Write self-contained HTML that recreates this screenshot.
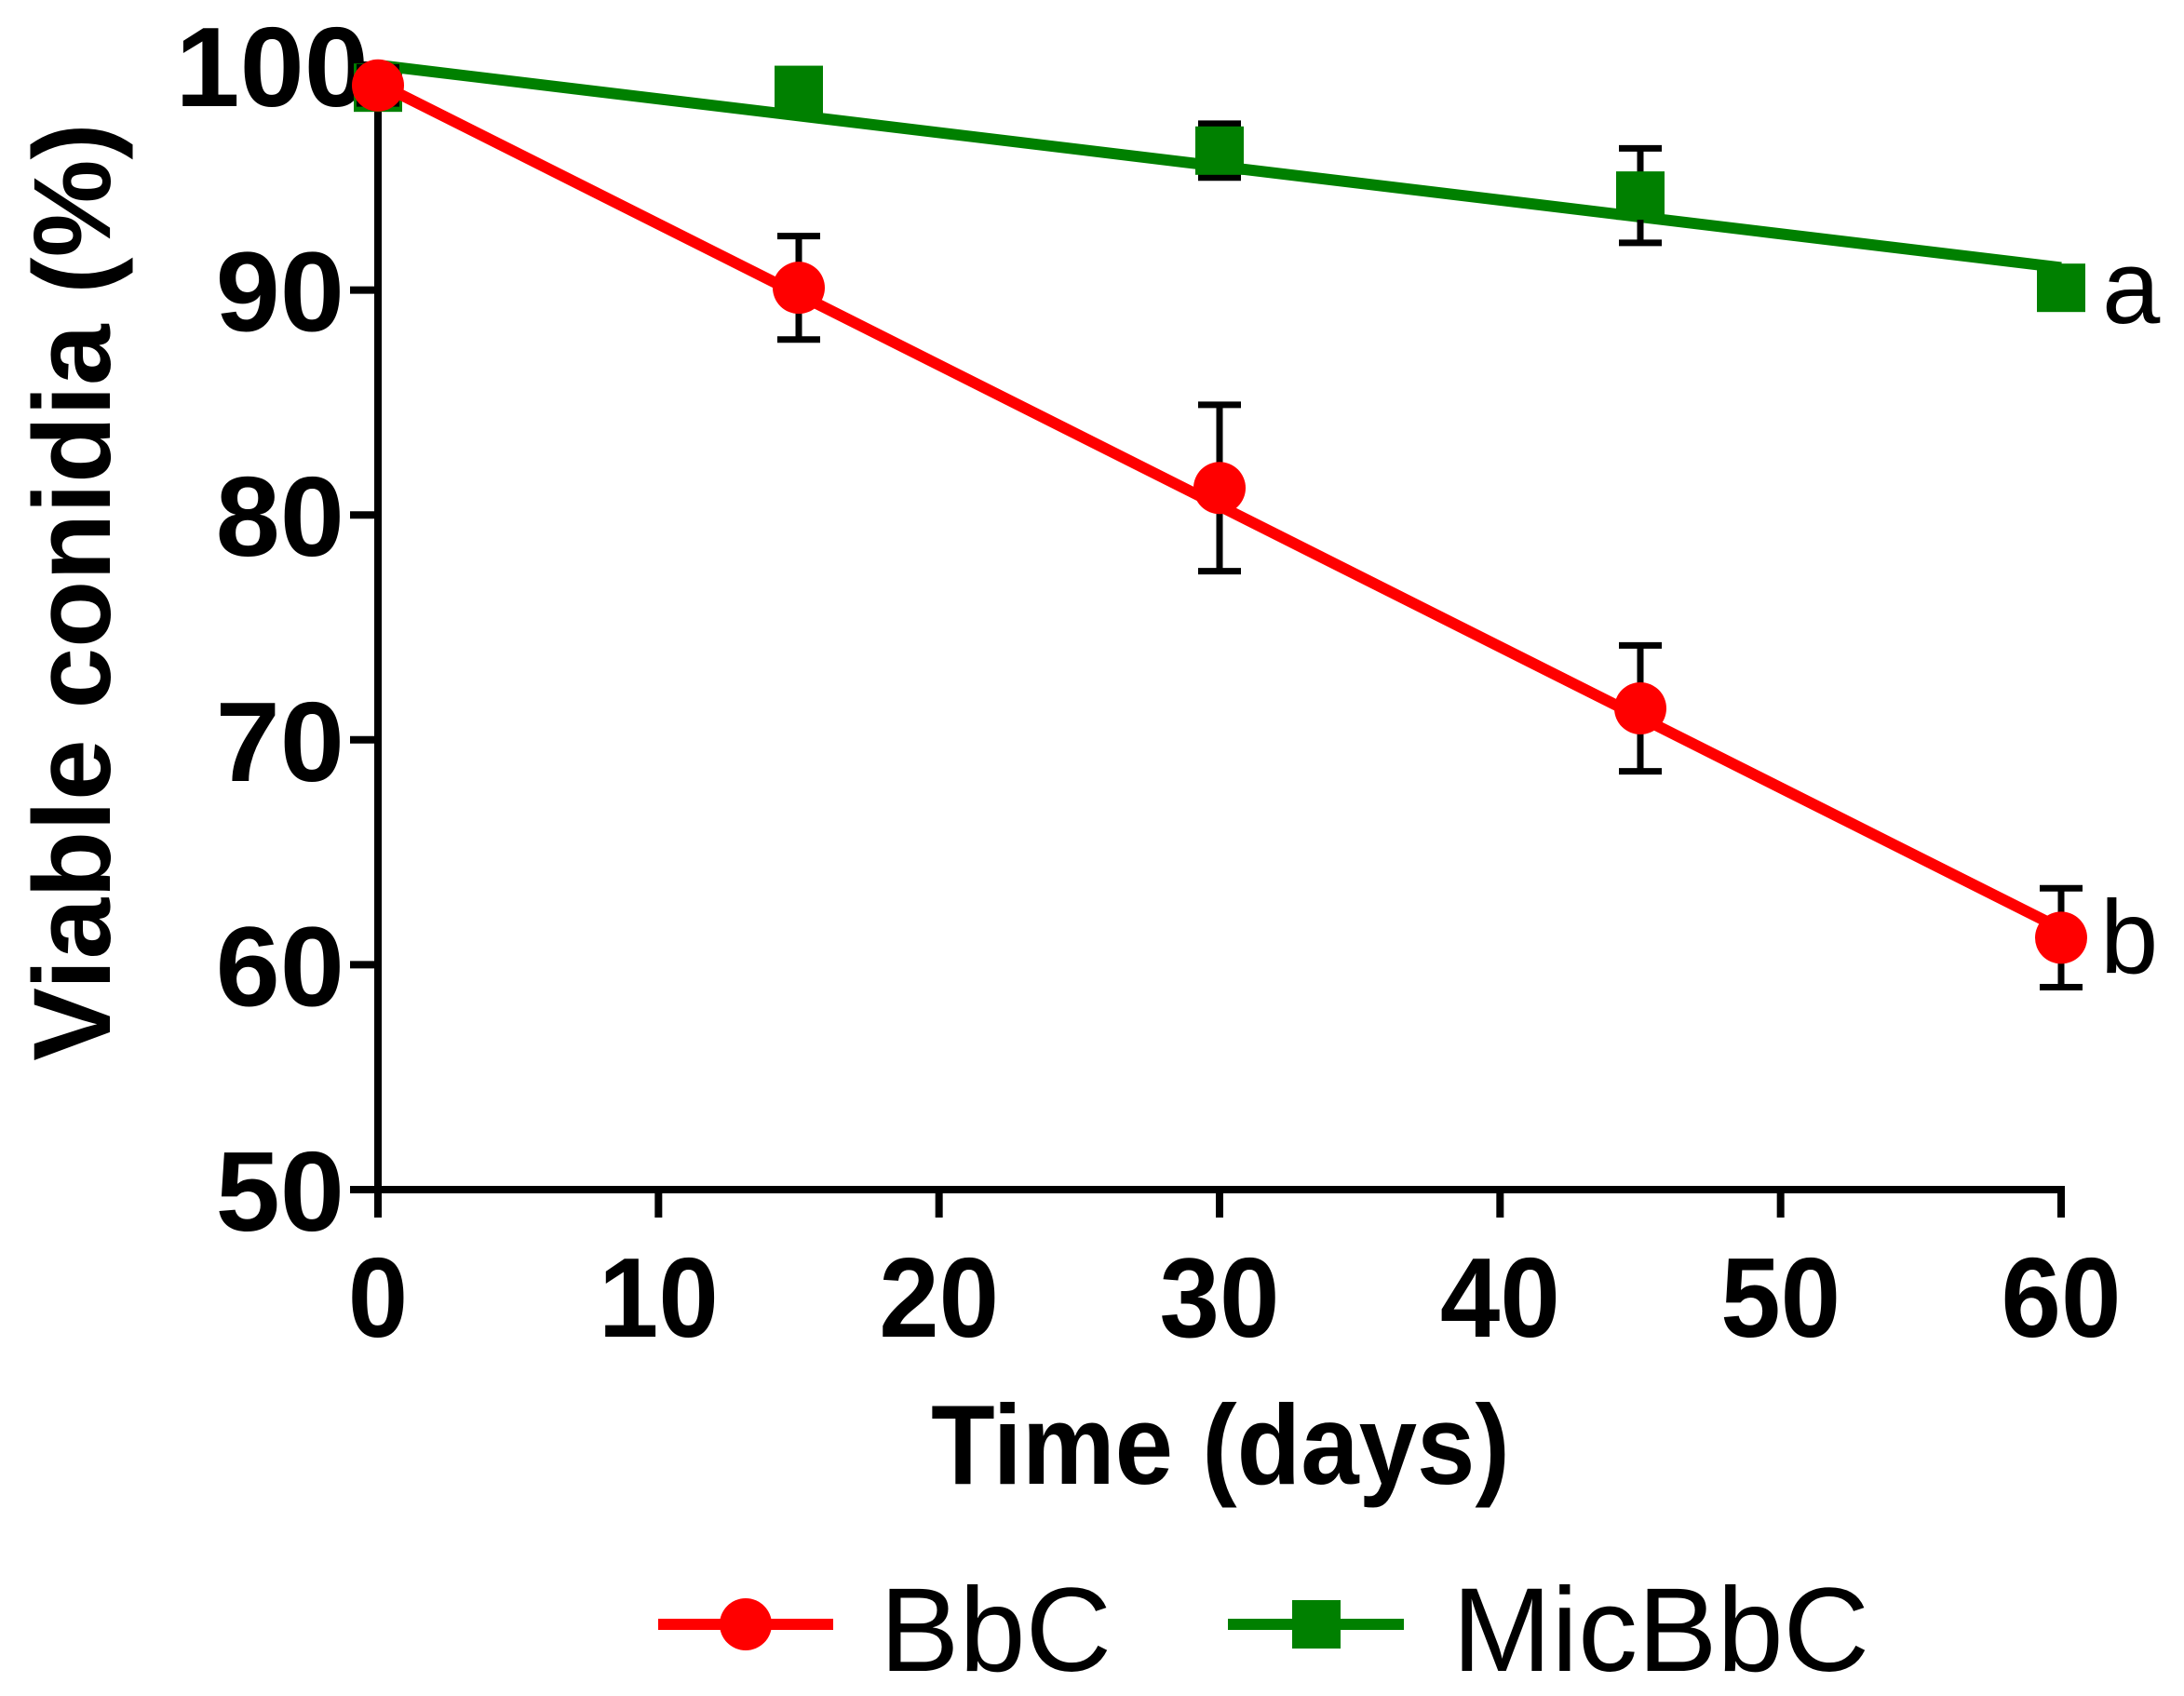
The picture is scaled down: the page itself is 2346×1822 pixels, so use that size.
<!DOCTYPE html>
<html><head><meta charset="utf-8"><style>
html,body{margin:0;padding:0;background:#fff;}
svg{display:block;}
text{font-family:"Liberation Sans",Arial,sans-serif;}
</style></head><body>
<svg id="chart" width="2346" height="1822" viewBox="0 0 2346 1822" xmlns="http://www.w3.org/2000/svg">
<g id="axes"></g><g id="series"></g><g id="legend"></g>
</svg>
<script>
const days = [0, 15, 30, 45, 60];
const bbcValues = [99.1, 90.1, 81.2, 71.4, 61.2];
const bbcErrors = [0.8, 2.3, 3.7, 2.8, 2.2];
const micValues = [99.0, 98.9, 96.2, 94.2, 90.1];
const micErrors = [0.8, 0.4, 1.2, 2.1, 0.4];
const bbcFit = [99.2, 61.6];
const micFit = [100.0, 91.0];
const xTicks = [0, 10, 20, 30, 40, 50, 60];
const yTicks = [50, 60, 70, 80, 90, 100];

const NS = "http://www.w3.org/2000/svg";
const X0 = 406, X1 = 2214, Y50 = 1278, Y100 = 70;
const xs = v => X0 + (v - 0) / 60 * (X1 - X0);
const ys = v => Y50 - (v - 50) / 50 * (Y50 - Y100);
function mk(tag, attrs, parent, txt) {
  const e = document.createElementNS(NS, tag);
  for (const k in attrs) e.setAttribute(k, attrs[k]);
  if (txt !== undefined) e.textContent = txt;
  parent.appendChild(e);
  return e;
}
const axes = document.getElementById('axes');
const series = document.getElementById('series');
const legend = document.getElementById('legend');

let e;
e = mk('line', {x1: X0, y1: Y100 - 3, x2: X0, y2: Y50 + 30, stroke: '#000', 'stroke-width': 8}, axes);


e = mk('line', {x1: X0 - 30, y1: Y50, x2: X1 + 4, y2: Y50, stroke: '#000', 'stroke-width': 8}, axes);


yTicks.forEach(t => {
  const y = ys(t);
  const tk = mk('line', {x1: X0 - 30, y1: y, x2: X0, y2: y, stroke: '#000', 'stroke-width': 8}, axes);
  
  
  const lb = mk('text', {x: 0, y: 0, 'text-anchor': 'end', 'font-size': 122, 'font-weight': 'bold', transform: `translate(${t === 100 ? 396 : 370},${y + 44}) scale(1.02,1)`}, axes, String(t));
  
  
});
xTicks.forEach(t => {
  const x = xs(t);
  const tk = mk('line', {x1: x, y1: Y50, x2: x, y2: Y50 + 30, stroke: '#000', 'stroke-width': 8}, axes);
  
  
  const lb = mk('text', {x: 0, y: 0, 'text-anchor': 'middle', 'font-size': 122, 'font-weight': 'bold', transform: `translate(${x},1436) scale(0.95,1)`}, axes, String(t));
  
  
});
e = mk('text', {x: 0, y: 0, 'text-anchor': 'middle', 'font-size': 122, 'font-weight': 'bold', transform: 'translate(1311,1594) scale(0.92,1)'}, axes, 'Time (days)');


e = mk('text', {x: 0, y: 0, 'text-anchor': 'middle', 'font-size': 118, 'font-weight': 'bold', transform: 'translate(118,636) rotate(-90)'}, axes, 'Viable conidia (%)');



function drawSeries(vals, errs, fit, color, shape, name) {
  const g = mk('g', {}, series);
  
  
  const ln = mk('line', {x1: xs(days[0]), y1: ys(fit[0]), x2: xs(days[days.length - 1]), y2: ys(fit[1]), stroke: color, 'stroke-width': 12}, g);
  
  
  vals.forEach((v, i) => {
    const x = xs(days[i]), yt = ys(v + errs[i]), yb = ys(v - errs[i]);
    const eb = mk('path', {d: `M${x},${yt}V${yb}M${x - 23},${yt}H${x + 23}M${x - 23},${yb}H${x + 23}`, stroke: '#000', 'stroke-width': 7, fill: 'none'}, g);
    
    
  });
  vals.forEach((v, i) => {
    const x = xs(days[i]), y = ys(v);
    let m;
    if (shape === 'circle') m = mk('circle', {cx: x, cy: y, r: 28, fill: color}, g);
    else m = mk('rect', {x: x - 26, y: y - 26, width: 52, height: 52, fill: color}, g);
    
    
  });
}
drawSeries(micValues, micErrors, micFit, '#008000', 'square', 'micbbc');
drawSeries(bbcValues, bbcErrors, bbcFit, '#ff0000', 'circle', 'bbc');

e = mk('text', {x: 2258, y: ys(micValues[4]) + 38, 'font-size': 112}, series, 'a');


e = mk('text', {x: 2256, y: ys(bbcValues[4]) + 38, 'font-size': 112}, series, 'b');



// legend
let lg = mk('g', {}, legend);


mk('line', {x1: 707, y1: 1745, x2: 895, y2: 1745, stroke: '#ff0000', 'stroke-width': 12}, lg);
mk('circle', {cx: 801, cy: 1745, r: 28, fill: '#ff0000'}, lg);
mk('text', {x: 945, y: 1795, 'font-size': 128}, lg, 'BbC');
lg = mk('g', {}, legend);


mk('line', {x1: 1319, y1: 1745, x2: 1508, y2: 1745, stroke: '#008000', 'stroke-width': 12}, lg);
mk('rect', {x: 1388, y: 1719, width: 52, height: 52, fill: '#008000'}, lg);
mk('text', {x: 1560, y: 1795, 'font-size': 128}, lg, 'MicBbC');
</script>
</body></html>
